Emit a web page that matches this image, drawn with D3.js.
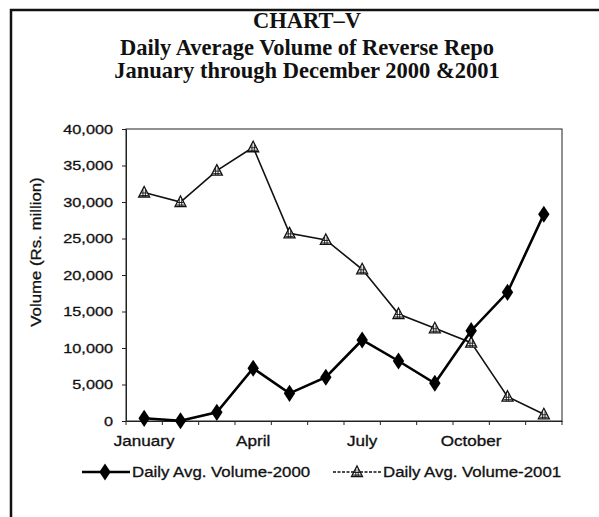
<!DOCTYPE html>
<html>
<head>
<meta charset="utf-8">
<script src="https://cdn.jsdelivr.net/npm/d3@7/dist/d3.min.js"></script>
<style>
  html, body { margin: 0; padding: 0; background: #fff; }
  svg { display: block; }
</style>
</head>
<body>
<script>
// ---- data ----
const months = ["January","February","March","April","May","June","July","August","September","October","November","December"];
const tickMonths = ["January","April","July","October"];
const volume2000 = [370, 40, 1190, 7220, 3790, 5990, 11100, 8220, 5170, 12370, 17630, 28320];
const volume2001 = [31300, 30000, 34300, 37500, 25700, 24800, 20780, 14660, 12700, 10730, 3330, 920];
const yTicks = [0, 5000, 10000, 15000, 20000, 25000, 30000, 35000, 40000];
const seriesNames = ["Daily Avg. Volume-2000", "Daily Avg. Volume-2001"];
const titleLines = ["CHART\u2013V", "Daily Average Volume of Reverse Repo", "January through December 2000 &2001"];
const yTitle = "Volume (Rs. million)";

const W = 599, H = 517;
const plot = {left: 126, right: 562, top: 129, bottom: 421};
const sans = "'Liberation Sans', Arial, Helvetica, sans-serif";
const serif = "'Liberation Serif', 'Times New Roman', serif";

const svg = d3.select("body").append("svg").attr("width", W).attr("height", H);

function stretch(sel, k) {
  sel.each(function() {
    const len = this.getComputedTextLength();
    d3.select(this).attr("textLength", len * k).attr("lengthAdjust", "spacingAndGlyphs");
  });
}

// outer frame (left and top edges visible)
svg.append("rect").attr("x", 11).attr("y", 10).attr("width", 620).attr("height", 540)
  .attr("fill", "none").attr("stroke", "#111").attr("stroke-width", 2.5);

// title
const title = svg.append("g").attr("font-family", serif).attr("font-weight", "bold")
  .attr("fill", "#111").attr("text-anchor", "middle");
const titleY = [28, 55, 78];
titleLines.forEach((t, i) => {
  title.append("text").attr("x", 307).attr("y", titleY[i]).attr("font-size", 22.5).text(t);
});

const x = d3.scaleBand().domain(months).range([plot.left, plot.right]);
const y = d3.scaleLinear().domain([0, 40000]).range([plot.bottom, plot.top]);
const cx = m => x(m) + x.bandwidth() / 2;

// plot frame
svg.append("rect").attr("x", plot.left).attr("y", plot.top)
  .attr("width", plot.right - plot.left).attr("height", plot.bottom - plot.top)
  .attr("fill", "none").attr("stroke", "#222").attr("stroke-width", 1);

// y axis
const yAxis = svg.append("g").attr("transform", `translate(${plot.left},0)`)
  .call(d3.axisLeft(y).tickValues(yTicks).tickSize(4).tickPadding(9)
    .tickFormat(d3.format(",")));
yAxis.select(".domain").attr("stroke", "#222");
yAxis.selectAll(".tick line").attr("stroke", "#222");
yAxis.selectAll("text").attr("font-family", sans).attr("font-size", 13)
  .attr("fill", "#111").attr("stroke", "#111").attr("stroke-width", 0.3);
stretch(yAxis.selectAll("text"), 1.25);

// x axis (labels centred on months, ticks between months)
const xAxis = svg.append("g").attr("transform", `translate(0,${plot.bottom})`)
  .call(d3.axisBottom(x).tickValues(tickMonths).tickSize(0).tickPadding(15));
xAxis.select(".domain").attr("stroke", "#222");
xAxis.selectAll("text").attr("font-family", sans).attr("font-size", 14)
  .attr("fill", "#111").attr("stroke", "#111").attr("stroke-width", 0.3);
stretch(xAxis.selectAll("text"), 1.22);
const bounds = months.map(m => x(m)).concat([x(months[months.length - 1]) + x.bandwidth()]);
svg.append("g").selectAll("line").data(bounds).join("line")
  .attr("x1", d => d).attr("x2", d => d)
  .attr("y1", plot.bottom).attr("y2", plot.bottom + 4)
  .attr("stroke", "#222").attr("stroke-width", 1);

// y axis title
svg.append("text")
  .attr("transform", `translate(41,252) rotate(-90)`)
  .attr("text-anchor", "middle")
  .attr("font-family", sans).attr("font-size", 14)
  .attr("fill", "#111").attr("stroke", "#111").attr("stroke-width", 0.3)
  .text(yTitle)
  .call(s => stretch(s, 1.2));

// markers
const diamond = d3.symbol().type(d3.symbolDiamond).size(85);
function triangle(g) {
  g.append("path").attr("d", "M0,-6 L5.5,4.5 L-5.5,4.5 Z")
    .attr("fill", "#fff").attr("stroke", "#111").attr("stroke-width", 1.3);
  g.append("path").attr("d", "M-3,0.5 H3 M-4,3 H4 M-1.2,-3 V4.5 M1.2,-3 V4.5")
    .attr("stroke", "#111").attr("stroke-width", 0.9).attr("fill", "none");
}

// series 2001
const line = d3.line().x((d, i) => cx(months[i])).y(d => y(d));
svg.append("path").datum(volume2001).attr("d", line)
  .attr("fill", "none").attr("stroke", "#111").attr("stroke-width", 1.6);
svg.append("g").selectAll("g").data(volume2001).join("g")
  .attr("transform", (d, i) => `translate(${cx(months[i])},${y(d)})`)
  .each(function() { triangle(d3.select(this)); });

// series 2000
svg.append("path").datum(volume2000).attr("d", line)
  .attr("fill", "none").attr("stroke", "#000").attr("stroke-width", 2.6);
svg.append("g").selectAll("path").data(volume2000).join("path")
  .attr("d", diamond)
  .attr("transform", (d, i) => `translate(${cx(months[i])},${y(d)}) scale(1.15,1)`)
  .attr("fill", "#000");

// legend
const legY = 472;
const leg = svg.append("g");
leg.append("line").attr("x1", 82).attr("x2", 130).attr("y1", legY).attr("y2", legY)
  .attr("stroke", "#000").attr("stroke-width", 2.4);
leg.append("path").attr("d", diamond).attr("transform", `translate(105,${legY}) scale(1.15,1)`).attr("fill", "#000");
leg.append("text").attr("x", 132).attr("y", legY + 5).attr("font-family", sans).attr("font-size", 14)
  .attr("fill", "#111").attr("stroke", "#111").attr("stroke-width", 0.3)
  .text(seriesNames[0]).call(s => stretch(s, 1.2));

leg.append("line").attr("x1", 333).attr("x2", 381).attr("y1", legY).attr("y2", legY)
  .attr("stroke", "#111").attr("stroke-width", 1.4).attr("stroke-dasharray", "3,1.5");
triangle(leg.append("g").attr("transform", `translate(357,${legY})`));
leg.append("text").attr("x", 383).attr("y", legY + 5).attr("font-family", sans).attr("font-size", 14)
  .attr("fill", "#111").attr("stroke", "#111").attr("stroke-width", 0.3)
  .text(seriesNames[1]).call(s => stretch(s, 1.2));
</script>
</body>
</html>
